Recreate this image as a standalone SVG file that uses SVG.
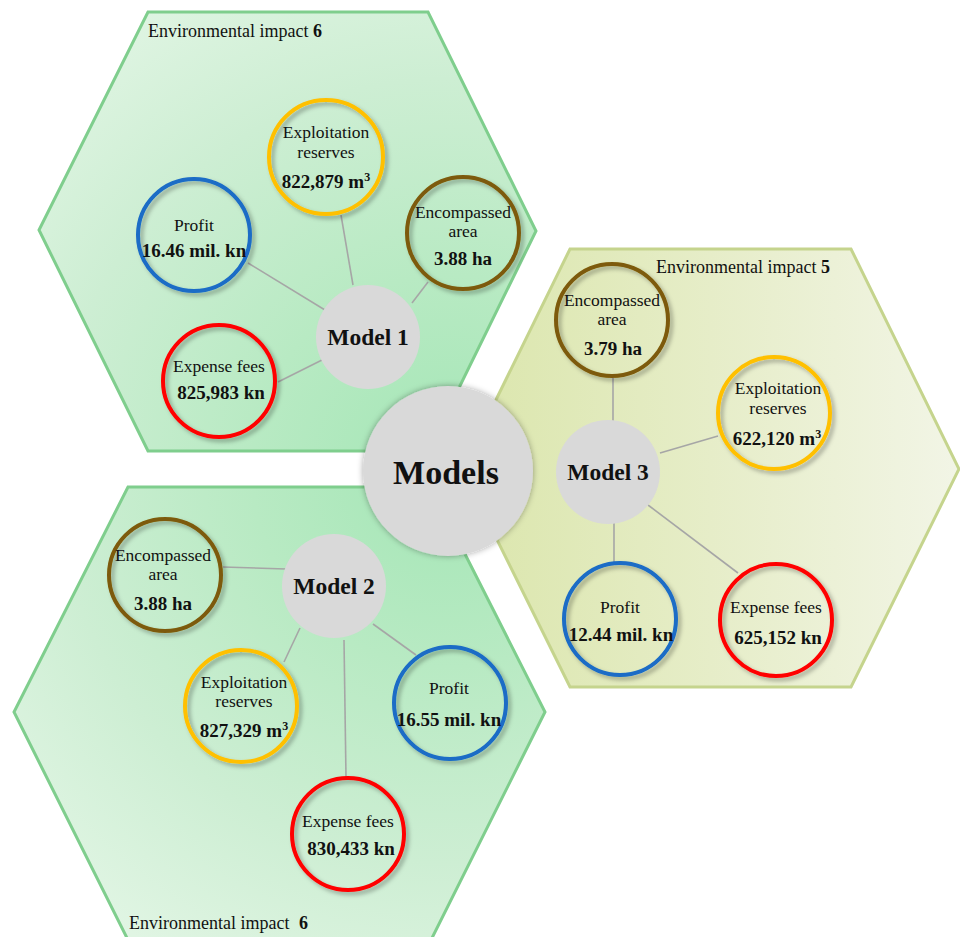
<svg xmlns="http://www.w3.org/2000/svg" width="960" height="937" viewBox="0 0 960 937">
<defs>
<radialGradient id="gGreen" gradientUnits="userSpaceOnUse" cx="448" cy="471" r="560">
<stop offset="0" stop-color="#a4e6b6"/>
<stop offset="0.35" stop-color="#b8eac3"/>
<stop offset="0.7" stop-color="#cdeed3"/>
<stop offset="1" stop-color="#e0f5e3"/>
</radialGradient>
<linearGradient id="gYellow" gradientUnits="userSpaceOnUse" x1="462" y1="0" x2="959" y2="0">
<stop offset="0" stop-color="#dbe6ac"/>
<stop offset="0.5" stop-color="#e6edc8"/>
<stop offset="1" stop-color="#f2f5e6"/>
</linearGradient>
<filter id="sh" x="-20%" y="-20%" width="150%" height="150%">
<feDropShadow dx="3" dy="3" stdDeviation="2" flood-color="#000" flood-opacity="0.3"/>
</filter>
<filter id="soft" x="-20%" y="-20%" width="140%" height="140%">
<feDropShadow dx="0" dy="0" stdDeviation="3" flood-color="#000" flood-opacity="0.35"/>
</filter>
</defs>
<style>
.hexG{fill:url(#gGreen);stroke:#7fce8d;stroke-width:3}
.hexY{fill:url(#gYellow);stroke:#c5d48d;stroke-width:3}
.con line{stroke:#a6a6a6;stroke-width:1.6}
.sat{fill:none;stroke-width:4;filter:url(#sh)}
.or{stroke:#ffc000}.bl{stroke:#1a6cc6}.br{stroke:#7d5a08}.rd{stroke:#ff0000}
.mod{fill:#d9d9d9}
text{font-family:"Liberation Serif","Times New Roman",serif;fill:#111;text-anchor:middle}
.t{font-size:17.5px}
.v{font-size:19px;font-weight:bold}
.m{font-size:23.5px;font-weight:bold}
.env{font-size:18px;text-anchor:start}
.sup{font-size:12px}
</style>

<g id="hex-model1">
<polygon class="hexG" points="148,12 428,12 536,231 428,451 148,451 39,230"/>
<text class="env" x="148" y="37">Environmental impact <tspan font-weight="bold">6</tspan></text>
</g>
<g id="hex-model2">
<polygon class="hexG" points="128,487 431,487 545,712 431,940 128,940 14,712"/>
<text class="env" x="129" y="929">Environmental impact <tspan dx="5" font-weight="bold">6</tspan></text>
</g>
<g id="hex-model3">
<polygon class="hexY" points="570,249 851,249 959,469 851,687 570,687 462,469"/>
<text class="env" x="656" y="273">Environmental impact <tspan font-weight="bold">5</tspan></text>
</g>

<g id="connectors" class="con">
<line x1="341" y1="215" x2="353" y2="285"/>
<line x1="248" y1="263" x2="325" y2="310"/>
<line x1="428" y1="282" x2="412" y2="303"/>
<line x1="278" y1="382" x2="322" y2="360"/>
<line x1="613" y1="378" x2="613" y2="422"/>
<line x1="660" y1="453" x2="718" y2="436"/>
<line x1="614" y1="522" x2="614" y2="563"/>
<line x1="648" y1="505" x2="738" y2="573"/>
<line x1="223" y1="567" x2="286" y2="569"/>
<line x1="284" y1="662" x2="300" y2="628"/>
<line x1="373" y1="624" x2="416" y2="655"/>
<line x1="344" y1="640" x2="346" y2="777"/>
</g>

<g id="model1">
<circle class="mod" cx="368" cy="337" r="52"/>
<text class="m" x="368" y="345">Model 1</text>
</g>
<g id="m1-exploitation">
<circle class="sat or" cx="326" cy="157" r="57"/>
<text class="t" x="326" y="138">Exploitation</text>
<text class="t" x="326" y="158">reserves</text>
<text class="v" x="326" y="188">822,879 m<tspan class="sup" dy="-7">3</tspan></text>
</g>
<g id="m1-profit">
<circle class="sat bl" cx="194" cy="235" r="56"/>
<text class="t" x="194" y="231">Profit</text>
<text class="v" x="194" y="257">16.46 mil. kn</text>
</g>
<g id="m1-area">
<circle class="sat br" cx="463" cy="233" r="56"/>
<text class="t" x="463" y="218">Encompassed</text>
<text class="t" x="463" y="237">area</text>
<text class="v" x="463" y="265">3.88 ha</text>
</g>
<g id="m1-expense">
<circle class="sat rd" cx="219" cy="381" r="56"/>
<text class="t" x="219" y="372">Expense fees</text>
<text class="v" x="221" y="399">825,983 kn</text>
</g>

<g id="model2">
<circle class="mod" cx="334" cy="586" r="52"/>
<text class="m" x="334" y="594">Model 2</text>
</g>
<g id="m2-area">
<circle class="sat br" cx="165" cy="575" r="56"/>
<text class="t" x="163" y="561">Encompassed</text>
<text class="t" x="163" y="580">area</text>
<text class="v" x="163" y="610">3.88 ha</text>
</g>
<g id="m2-exploitation">
<circle class="sat or" cx="241" cy="706" r="56"/>
<text class="t" x="244" y="688">Exploitation</text>
<text class="t" x="244" y="707">reserves</text>
<text class="v" x="244" y="737">827,329 m<tspan class="sup" dy="-7">3</tspan></text>
</g>
<g id="m2-profit">
<circle class="sat bl" cx="450" cy="703" r="56"/>
<text class="t" x="449" y="694">Profit</text>
<text class="v" x="449" y="726">16.55 mil. kn</text>
</g>
<g id="m2-expense">
<circle class="sat rd" cx="348" cy="834" r="56"/>
<text class="t" x="348" y="827">Expense fees</text>
<text class="v" x="351" y="855">830,433 kn</text>
</g>

<g id="model3">
<circle class="mod" cx="608" cy="472" r="52"/>
<text class="m" x="608" y="480">Model 3</text>
</g>
<g id="m3-area">
<circle class="sat br" cx="612" cy="320" r="56"/>
<text class="t" x="612" y="306">Encompassed</text>
<text class="t" x="612" y="325">area</text>
<text class="v" x="613" y="355">3.79 ha</text>
</g>
<g id="m3-exploitation">
<circle class="sat or" cx="774" cy="413" r="56"/>
<text class="t" x="778" y="394">Exploitation</text>
<text class="t" x="778" y="414">reserves</text>
<text class="v" x="777" y="445">622,120 m<tspan class="sup" dy="-7">3</tspan></text>
</g>
<g id="m3-profit">
<circle class="sat bl" cx="620" cy="619" r="56"/>
<text class="t" x="620" y="613">Profit</text>
<text class="v" x="621" y="641">12.44 mil. kn</text>
</g>
<g id="m3-expense">
<circle class="sat rd" cx="776" cy="620" r="56"/>
<text class="t" x="776" y="613">Expense fees</text>
<text class="v" x="778" y="644">625,152 kn</text>
</g>

<g id="models">
<circle cx="448" cy="471" r="85" fill="#d9d9d9" filter="url(#soft)"/>
<text x="446" y="484" style="font-size:34px;font-weight:bold">Models</text>
</g>
</svg>
